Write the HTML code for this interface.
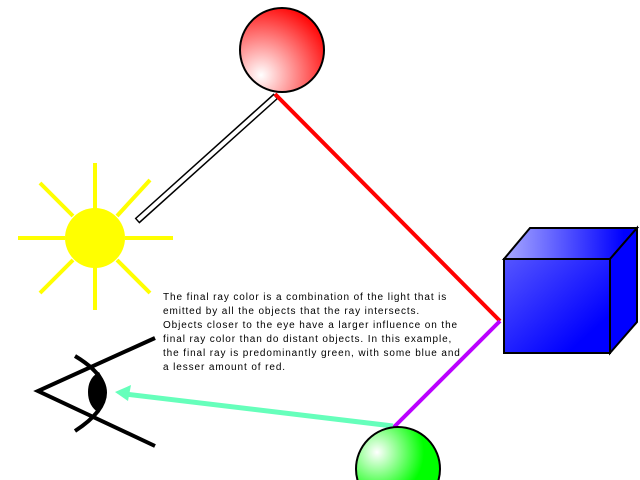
<!DOCTYPE html>
<html><head><style>
html,body{margin:0;padding:0}
body{background:#fff;width:640px;height:480px;overflow:hidden;position:relative}
svg{display:block}
.t{position:absolute;left:163px;top:291px;font:10px/14px "Liberation Sans",sans-serif;color:#000;letter-spacing:0.9px;white-space:nowrap}
</style></head><body>
<svg width="640" height="480" style="position:absolute;left:0;top:0">
<defs>
<radialGradient id="rg" cx="0.25" cy="0.8" r="0.9"><stop offset="0" stop-color="#fff"/><stop offset="1" stop-color="#f00"/></radialGradient>
<radialGradient id="gg" cx="0.25" cy="0.3" r="0.8"><stop offset="0" stop-color="#fff"/><stop offset="0.7" stop-color="#0f0"/></radialGradient>
<linearGradient id="bf" x1="0" y1="0" x2="1" y2="1"><stop offset="0" stop-color="#55f"/><stop offset="0.8" stop-color="#00f"/></linearGradient>
<linearGradient id="bt" x1="0" y1="0" x2="1" y2="0"><stop offset="0" stop-color="#aaf"/><stop offset="0.9" stop-color="#00f"/></linearGradient>
</defs>
<g stroke="#ff0" stroke-width="4">
<line x1="95" y1="163" x2="95" y2="210"/><line x1="95" y1="266" x2="95" y2="310"/>
<line x1="18" y1="238" x2="65" y2="238"/><line x1="125" y1="238" x2="173" y2="238"/>
<line x1="40" y1="183" x2="73" y2="216"/><line x1="117" y1="260" x2="150" y2="293"/>
<line x1="150" y1="180" x2="117" y2="216"/><line x1="73" y1="260" x2="40" y2="293"/>
</g>
<circle cx="95" cy="238" r="30" fill="#ff0"/>
<line x1="276" y1="96" x2="137" y2="221" stroke="#000" stroke-width="7"/>
<line x1="275" y1="97" x2="138" y2="220" stroke="#fff" stroke-width="4"/>
<line x1="275" y1="94" x2="500" y2="321" stroke="#f00" stroke-width="4"/>
<line x1="500" y1="321" x2="393" y2="428" stroke="#b0f" stroke-width="4"/>
<line x1="393" y1="426" x2="125" y2="394" stroke="#6fb" stroke-width="5"/>
<polygon points="115,392 131,385 128,401" fill="#6fb"/>
<circle cx="282" cy="50" r="42" fill="url(#rg)" stroke="#000" stroke-width="2"/>
<circle cx="398" cy="469" r="42" fill="url(#gg)" stroke="#000" stroke-width="2"/>
<polygon points="504,259 530,228 637,228 610,259" fill="url(#bt)" stroke="#000" stroke-width="2"/>
<polygon points="610,259 637,228 637,322 610,353" fill="#00f" stroke="#000" stroke-width="2"/>
<rect x="504" y="259" width="106" height="94" fill="url(#bf)" stroke="#000" stroke-width="2"/>
<g stroke="#000" stroke-width="4" fill="none">
<polyline points="155,338 38,391 155,446"/>
<path d="M75,356 Q135,392 75,431"/>
</g>
<path d="M99,372 Q88,378 88,392 Q88,406 99,413 Q112,392 99,372Z" fill="#000"/>
</svg>
<div class="t">The final ray color is a combination of the light that is<br>emitted by all the objects that the ray intersects.<br>Objects closer to the eye have a larger influence on the<br>final ray color than do distant objects. In this example,<br>the final ray is predominantly green, with some blue and<br>a lesser amount of red.</div>
</body></html>
